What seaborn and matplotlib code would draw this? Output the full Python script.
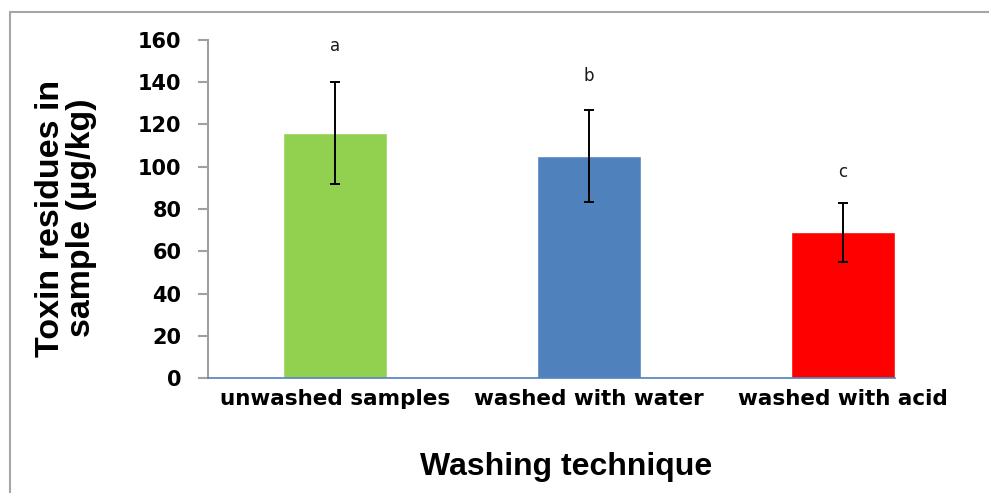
import matplotlib
matplotlib.use("Agg")
import matplotlib.pyplot as plt
import seaborn as sns
import pandas as pd
from matplotlib.patches import Rectangle

# Toxin residues by washing technique
categories = ["unwashed samples", "washed with water", "washed with acid"]
means = [116, 105, 69]
errors = [24, 21.7, 14]
letters = ["a", "b", "c"]
letter_y = [157, 143, 97.5]
colors = ["#92D050", "#4F81BD", "#FF0000"]
yticks = [0, 20, 40, 60, 80, 100, 120, 140, 160]

df = pd.DataFrame({"technique": categories, "residue": means})

sns.set_style("white")
plt.rcParams["font.family"] = ["DejaVu Sans"]

fig = plt.figure(figsize=(9.89, 4.93), dpi=100)
ax = fig.add_axes([208 / 989, 1 - 378 / 493, (970 - 208) / 989, (378 - 40) / 493])

sns.barplot(data=df, x="technique", y="residue", hue="technique", palette=colors,
            width=0.41, errorbar=None, legend=False, ax=ax, saturation=1)
ax.errorbar(range(len(categories)), means, yerr=errors, fmt="none",
            ecolor="black", elinewidth=1.4, capsize=3.8, capthick=1.4)

for i, (lt, ly) in enumerate(zip(letters, letter_y)):
    ax.text(i, ly, lt, ha="center", va="center", fontsize=12, color="#1a1a1a")

ax.set_xlim(-0.5, 2.5)
ax.set_ylim(0, 160)
ax.set_yticks(yticks)
ax.set_yticklabels([str(v) for v in yticks], fontsize=15, fontweight="bold", color="black")
ax.set_xticks(range(len(categories)))
ax.set_xticklabels(categories, fontsize=15.5, fontweight="bold", color="black")
ax.tick_params(axis="y", length=7, width=1.5, color="#A0A0A0", pad=12, left=True)
ax.tick_params(axis="x", length=0, pad=8)
ax.set_xlabel("")
ax.set_ylabel("")

for s in ["top", "right"]:
    ax.spines[s].set_visible(False)
ax.spines["left"].set_color("#A0A0A0")
ax.spines["left"].set_linewidth(1.5)
ax.spines["bottom"].set_color("#4F81BD")
ax.spines["bottom"].set_linewidth(1.2)
ax.spines["bottom"].set_bounds(-0.5, 2.205)

fig.text(66 / 989, 1 - 218 / 493, "Toxin residues in\nsample (µg/kg)", rotation=90,
         ha="center", va="center", fontsize=24.5, fontweight="bold", color="black",
         family=["Liberation Sans", "DejaVu Sans"], linespacing=1.0)
fig.text(566 / 989, 1 - 467 / 493, "Washing technique", ha="center", va="center",
         fontsize=23, fontweight="bold", color="black",
         family=["Liberation Sans", "DejaVu Sans"])

# Outer frame of the chart area
fig.patches.append(Rectangle((10 / 989, -0.05), 1.1, 1 - 12 / 493 + 0.05,
                             transform=fig.transFigure, fill=False,
                             edgecolor="#A6A6A6", linewidth=1.5))

fig.savefig("out.png", dpi=100)
